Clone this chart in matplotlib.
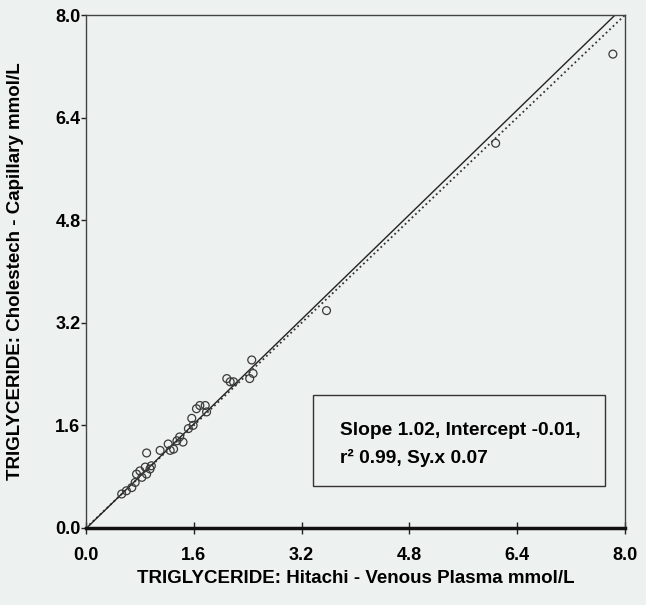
import matplotlib
matplotlib.use("Agg")
import matplotlib.pyplot as plt
from matplotlib.patches import Rectangle
import numpy as np

# Data
hitachi = [0.53, 0.60, 0.68, 0.73, 0.75, 0.80, 0.83, 0.88, 0.90, 0.95, 0.97, 0.90,
           1.10, 1.22, 1.25, 1.30, 1.35, 1.39, 1.44, 1.52, 1.57, 1.59, 1.64, 1.69,
           1.77, 1.79, 2.09, 2.14, 2.19, 2.43, 2.48, 2.46, 3.57, 6.08, 7.82]
cholestech = [0.53, 0.58, 0.63, 0.71, 0.84, 0.89, 0.79, 0.95, 0.84, 0.92, 0.97, 1.17,
              1.21, 1.31, 1.21, 1.23, 1.36, 1.42, 1.34, 1.55, 1.71, 1.60, 1.86, 1.91,
              1.91, 1.81, 2.33, 2.28, 2.28, 2.33, 2.41, 2.62, 3.39, 6.00, 7.39]
slope = 1.02
intercept = -0.01
ticks = [0.0, 1.6, 3.2, 4.8, 6.4, 8.0]
tick_labels = ["0.0", "1.6", "3.2", "4.8", "6.4", "8.0"]

plt.rcParams['font.family'] = ['Liberation Sans', 'DejaVu Sans']
bg = '#edf1ef'
fig = plt.figure(figsize=(6.46, 6.05), dpi=100, facecolor=bg)
ax = fig.add_axes([0.1331, 0.1273, 0.8344, 0.8479], facecolor=bg)

line_x = np.array([0.0, 8.0])
ax.plot(line_x, line_x, linestyle=':', color='#333333', lw=1.3, zorder=2)
ax.plot(line_x, slope * line_x + intercept, linestyle='-', color='#222222', lw=1.0, zorder=2)
ax.scatter(hitachi, cholestech, s=32, facecolors='none', edgecolors='#3a3a3a',
           linewidths=0.9, zorder=3)

ax.set_xlim(0, 8)
ax.set_ylim(0, 8)
ax.set_xticks(ticks)
ax.set_yticks(ticks)
ax.set_xticklabels(tick_labels, fontsize=13, fontweight='bold')
ax.set_yticklabels(tick_labels, fontsize=13, fontweight='bold')
ax.tick_params(axis='x', direction='inout', length=8, width=1.0, pad=10, colors='#222222')
ax.tick_params(axis='y', direction='out', length=3.5, width=1.0, pad=0.5, colors='#222222')
for lab in ax.get_xticklabels() + ax.get_yticklabels():
    lab.set_color('black')

for side in ['left', 'top', 'right']:
    ax.spines[side].set_linewidth(1.0)
    ax.spines[side].set_color('#444444')
ax.spines['bottom'].set_linewidth(2.5)
ax.spines['bottom'].set_color('#111111')

ax.set_xlabel("TRIGLYCERIDE: Hitachi - Venous Plasma mmol/L", fontsize=13.5,
              fontweight='bold')
ax.set_ylabel("TRIGLYCERIDE: Cholestech - Capillary mmol/L", fontsize=13.5,
              fontweight='bold')
ax.xaxis.set_label_coords(0.5, -0.082)
ax.yaxis.set_label_coords(-0.115, 0.5)

# Annotation box
box = Rectangle((0.421, 0.082), 0.542, 0.177, transform=ax.transAxes,
                fill=False, edgecolor='#333333', lw=1.0, zorder=4)
ax.add_patch(box)
ax.text(0.472, 0.181, "Slope 1.02, Intercept -0.01,", transform=ax.transAxes,
        fontsize=13.8, fontweight='bold', va='baseline', ha='left')
ax.text(0.472, 0.127, "r² 0.99, Sy.x 0.07", transform=ax.transAxes,
        fontsize=13.8, fontweight='bold', va='baseline', ha='left')

fig.savefig("out.png", dpi=100, facecolor=bg)
